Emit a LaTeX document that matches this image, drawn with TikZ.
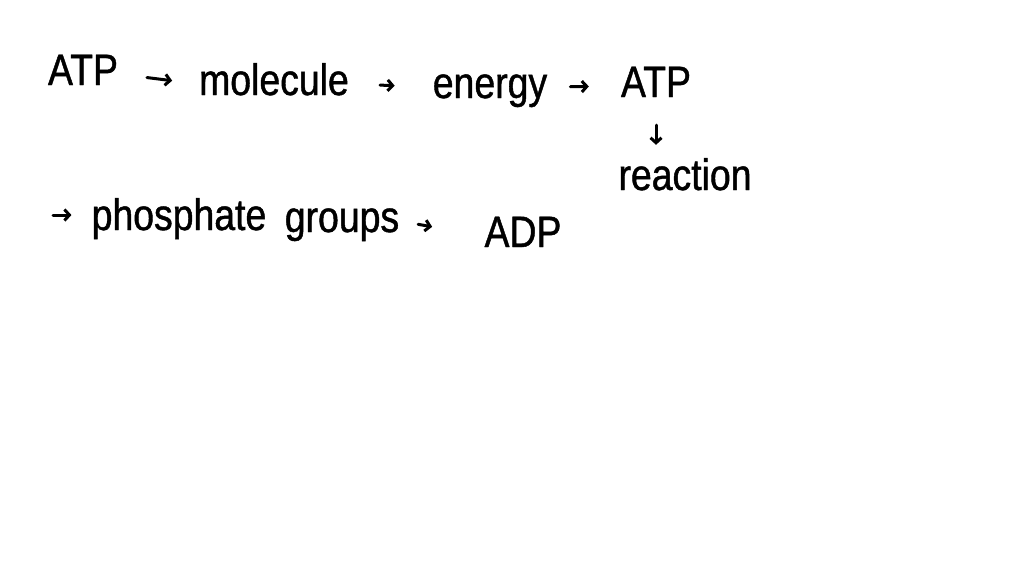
\documentclass[tikz,border=0pt]{standalone}
\usepackage{fontspec}
\setmainfont[FakeStretch=0.85,FakeBold=1]{Liberation Sans}
\usetikzlibrary{arrows.meta,positioning}

\begin{document}
\begin{tikzpicture}[x=1pt,y=-1pt,
    word/.style={inner sep=0pt,font=\fontsize{44}{44}\selectfont,text height=33pt,text depth=11pt},
    arr/.style={-{Straight Barb[length=5pt,width=11pt]},line width=3pt,line cap=round}]
        \useasboundingbox (0,0) rectangle (1024,576);
        \node [word] (a) at (83,74) {ATP};
        \node [word] (b) at (274,84) {molecule};
        \node [word] (c) at (490,87) {energy};
        \node [word] (d) at (656,86) {ATP};
        \node [word] (e) at (685,179) {reaction};
        \node [word] (f) at (179,219) {phosphate};
        \node [word] (g) at (342,221) {groups};
        \node [word] (h) at (523,236) {ADP};
        \coordinate (s) at (53,215);

        \draw [arr, shorten <=29pt, shorten >=27pt] (a.east) -- (b.west);
        \draw [arr, shorten <=31pt, shorten >=38pt] (b.east) -- (c.west);
        \draw [arr, shorten <=23pt, shorten >=32pt] (c.east) -- (d.west);
        \draw [arr, shorten <=17pt, shorten >=12pt] (d.south) -- (d.south |- e.north);
        \draw [arr, shorten >=20pt] (s) -- (s -| f.west);
        \draw [arr, shorten <=19pt, shorten >=53pt] (g.east) -- (h.west);
    \end{tikzpicture}
\end{document}
